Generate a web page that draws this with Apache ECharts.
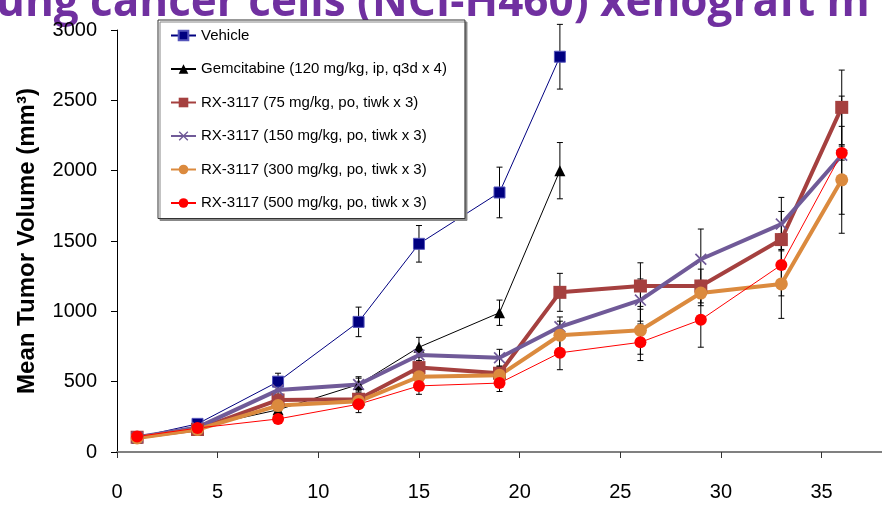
<!DOCTYPE html>
<html>
<head>
<meta charset="utf-8">
<script src="https://cdn.jsdelivr.net/npm/echarts@6/dist/echarts.min.js"></script>
<style>
  html, body { margin: 0; padding: 0; background: #fff; }
  #chart { width: 882px; height: 505px; }
</style>
</head>
<body>
<div id="chart"></div>
<script>
// 数据
var days = [1, 4, 8, 12, 15, 19, 22, 26, 29, 33, 36];
var xTicks = [0, 5, 10, 15, 20, 25, 30, 35];
var seriesNames = [
  'Vehicle',
  'Gemcitabine (120 mg/kg, ip, q3d x 4)',
  'RX-3117 (75 mg/kg, po, tiwk x 3)',
  'RX-3117 (150 mg/kg, po, tiwk x 3)',
  'RX-3117 (300 mg/kg, po, tiwk x 3)',
  'RX-3117 (500 mg/kg, po, tiwk x 3)'
];
var vehicle = [105, 200, 500, 925, 1480, 1845, 2810];
var vehicleErr = [15, 20, 60, 105, 130, 180, 230];
var gemcitabine = [100, 175, 300, 480, 745, 990, 2000];
var gemErr = [10, 20, 30, 55, 70, 90, 200];
var rx75 = [105, 160, 370, 375, 600, 560, 1135, 1180, 1180, 1510, 2450];
var rx75Err = [10, 20, 35, 40, 50, 50, 135, 165, 120, 200, 265];
var rx150 = [105, 175, 440, 480, 690, 670, 890, 1080, 1370, 1620, 2110];
var rx150Err = [10, 20, 30, 45, 55, 60, 70, 150, 215, 190, 420];
var rx300 = [100, 160, 330, 360, 535, 545, 830, 865, 1130, 1195, 1935];
var rx300Err = [10, 20, 30, 40, 50, 50, 100, 170, 90, 245, 380];
var rx500 = [110, 170, 235, 340, 470, 490, 705, 780, 940, 1330, 2125];
var rx500Err = [10, 20, 30, 60, 60, 60, 120, 130, 195, 220, 50];

// 配对 [x, y]
function pairs(vals) {
  return vals.map(function (v, i) { return [days[i], v]; });
}
function errPairs(vals, errs) {
  return vals.map(function (v, i) { return [days[i], v, errs[i]]; });
}

var allErr = []
  .concat(errPairs(vehicle, vehicleErr))
  .concat(errPairs(gemcitabine, gemErr))
  .concat(errPairs(rx75, rx75Err))
  .concat(errPairs(rx150, rx150Err))
  .concat(errPairs(rx300, rx300Err))
  .concat(errPairs(rx500, rx500Err));

var crossPath = 'path://M0,1L1,0L5,4L9,0L10,1L6,5L10,9L9,10L5,6L1,10L0,9L4,5Z';

var myChart = echarts.init(document.getElementById('chart'));
var option = {
  animation: false,
  textStyle: { fontFamily: '"Liberation Sans", Arial, sans-serif' },
  graphic: [{
    type: 'text',
    left: -4,
    top: -19,
    style: {
      text: 'ung cancer cells (NCI-H460) xenograft m',
      font: '700 44px "Open Sans", sans-serif',
      fill: '#7030A0'
    }
  }],
  legend: {
    orient: 'vertical',
    left: 158,
    top: 20,
    padding: [8, 18, 8, 12],
    itemGap: 18.5,
    itemWidth: 25,
    itemHeight: 12,
    backgroundColor: '#fff',
    borderColor: '#333',
    borderWidth: 1,
    borderRadius: 0,
    shadowColor: '#888',
    shadowOffsetX: 2,
    shadowOffsetY: 2,
    shadowBlur: 0,
    textStyle: { fontSize: 15, color: '#000', fontFamily: '"Liberation Sans", Arial, sans-serif' },
    data: seriesNames
  },
  grid: { left: 117, right: 0, top: 30, bottom: 53, containLabel: false },
  xAxis: {
    type: 'value',
    min: 0,
    max: 38,
    interval: 5,
    splitLine: { show: false },
    axisLine: { lineStyle: { color: '#808080', width: 2 } },
    axisTick: { length: 6, lineStyle: { color: '#333' }, customValues: xTicks },
    axisLabel: { fontSize: 20, color: '#000', margin: 30, customValues: xTicks }
  },
  yAxis: {
    type: 'value',
    min: 0,
    max: 3000,
    interval: 500,
    name: 'Mean Tumor Volume (mm³)',
    nameLocation: 'middle',
    nameGap: 78,
    nameTextStyle: { fontSize: 24, fontWeight: 'bold', color: '#000', padding: [0, 0, 0, 0] },
    splitLine: { show: false },
    axisLine: { show: true, lineStyle: { color: '#000', width: 1 } },
    axisTick: { show: true, length: 6, lineStyle: { color: '#000' } },
    axisLabel: {
      fontSize: 20,
      color: '#000',
      margin: 20,
      formatter: function (v) { return String(v); }
    }
  },
  series: [
    {
      // 误差线
      type: 'custom',
      z: 1,
      silent: true,
      data: allErr,
      renderItem: function (params, api) {
        var x = api.value(0), y = api.value(1), e = api.value(2);
        var top = api.coord([x, y + e]);
        var bot = api.coord([x, y - e]);
        var w = 3;
        var st = { stroke: '#000', lineWidth: 1 };
        return {
          type: 'group',
          children: [
            { type: 'line', shape: { x1: top[0], y1: top[1], x2: bot[0], y2: bot[1] }, style: st },
            { type: 'line', shape: { x1: top[0] - w, y1: top[1], x2: top[0] + w, y2: top[1] }, style: st },
            { type: 'line', shape: { x1: bot[0] - w, y1: bot[1], x2: bot[0] + w, y2: bot[1] }, style: st }
          ]
        };
      }
    },
    {
      name: seriesNames[0],
      type: 'line',
      z: 3,
      data: pairs(vehicle),
      symbol: 'rect',
      symbolSize: 11,
      lineStyle: { color: '#000080', width: 1 },
      itemStyle: { color: '#000080', borderColor: '#5555bb', borderWidth: 1 }
    },
    {
      name: seriesNames[1],
      type: 'line',
      z: 3,
      data: pairs(gemcitabine),
      symbol: 'triangle',
      symbolSize: 11,
      lineStyle: { color: '#000', width: 1 },
      itemStyle: { color: '#000' }
    },
    {
      name: seriesNames[2],
      type: 'line',
      z: 3,
      data: pairs(rx75),
      symbol: 'rect',
      symbolSize: 13,
      lineStyle: { color: '#A5403F', width: 4 },
      itemStyle: { color: '#A5403F' }
    },
    {
      name: seriesNames[3],
      type: 'line',
      z: 3,
      data: pairs(rx150),
      symbol: crossPath,
      symbolSize: 12,
      lineStyle: { color: '#705A98', width: 4 },
      itemStyle: { color: '#705A98' }
    },
    {
      name: seriesNames[4],
      type: 'line',
      z: 3,
      data: pairs(rx300),
      symbol: 'circle',
      symbolSize: 13,
      lineStyle: { color: '#DB8A3E', width: 4 },
      itemStyle: { color: '#DB8A3E' }
    },
    {
      name: seriesNames[5],
      type: 'line',
      z: 3,
      data: pairs(rx500),
      symbol: 'circle',
      symbolSize: 12,
      lineStyle: { color: '#FF0000', width: 1 },
      itemStyle: { color: '#FF0000' }
    }
  ]
};
myChart.setOption(option);
window.addEventListener('resize', function () {
  myChart.resize();
});
</script>
</body>
</html>
